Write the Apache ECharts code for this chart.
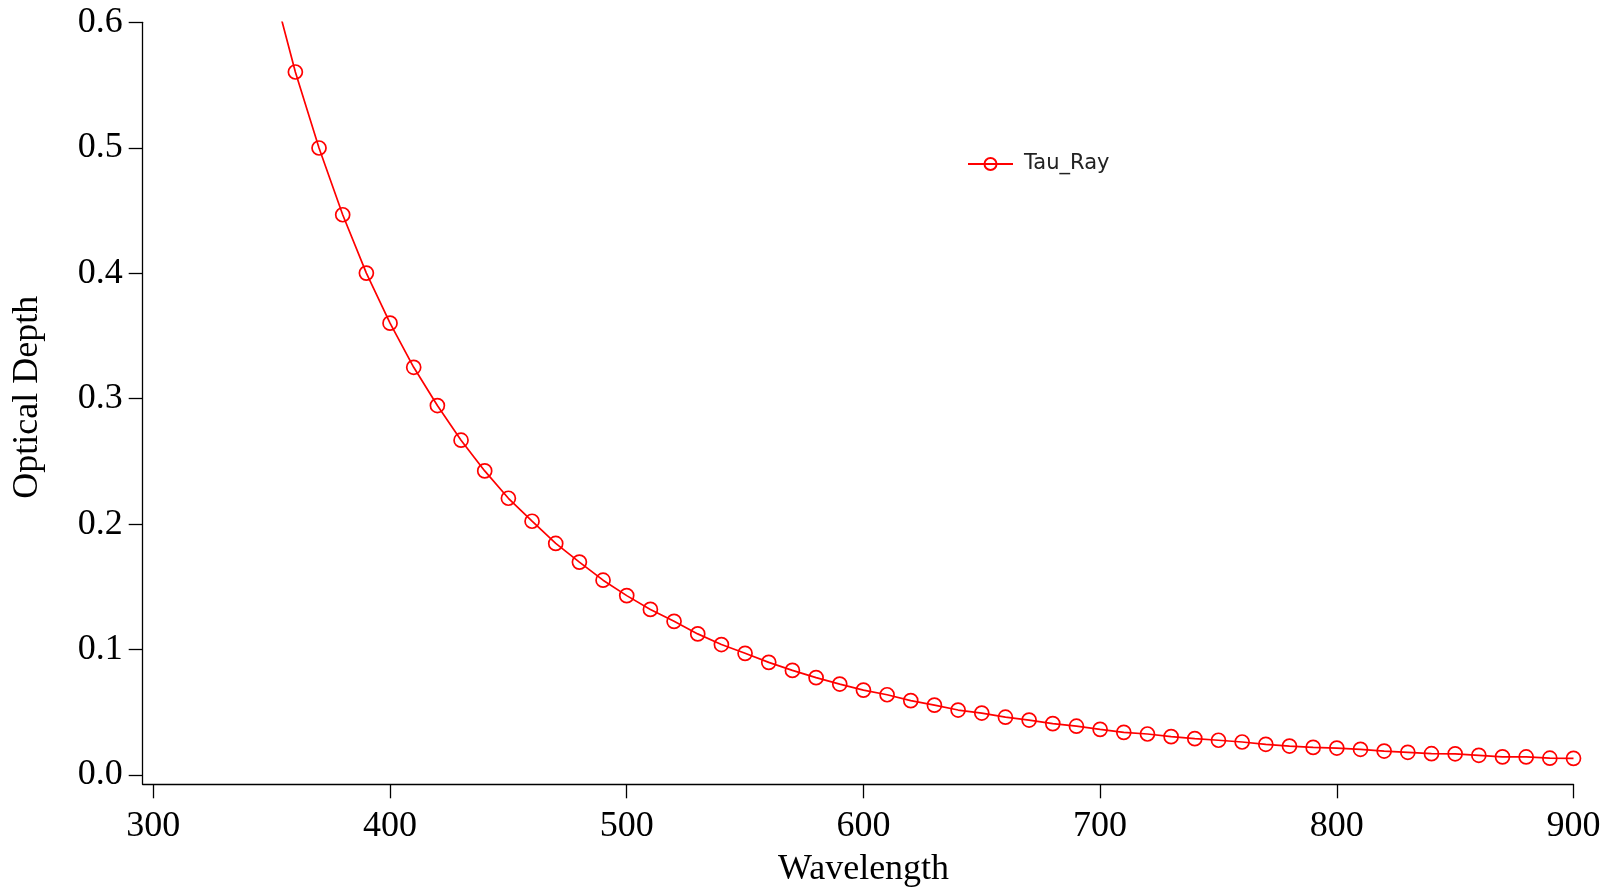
<!DOCTYPE html>
<html>
<head>
<meta charset="utf-8">
<script src="https://cdn.jsdelivr.net/npm/echarts@6/dist/echarts.min.js"></script>
<style>
html,body{margin:0;padding:0;background:#fff;}
#chart{width:1616px;height:892px;}
</style>
</head>
<body>
<div id="chart"></div>
<script>
// Wavelength (nm) of the plotted points; the first point only carries the curve into the plot top
const wavelengths = [350,360,370,380,390,400,410,420,430,440,450,460,470,480,490,500,510,520,530,540,550,560,570,580,590,600,610,620,630,640,650,660,670,680,690,700,710,720,730,740,750,760,770,780,790,800,810,820,830,840,850,860,870,880,890,900];
// Rayleigh optical depth (Tau_Ray)
const tauRay = [0.632,0.5604,0.4998,0.4466,0.4001,0.3602,0.3250,0.2945,0.2669,0.2424,0.2206,0.2023,0.1846,0.1697,0.1553,0.1430,0.1320,0.1225,0.1125,0.1040,0.0970,0.0898,0.0834,0.0776,0.0725,0.0677,0.0640,0.0593,0.0557,0.0518,0.0494,0.0461,0.0438,0.0410,0.0389,0.0364,0.0340,0.0327,0.0306,0.0290,0.0277,0.0263,0.0245,0.0231,0.0220,0.0215,0.0205,0.0191,0.0181,0.0170,0.0169,0.0157,0.0145,0.0144,0.0134,0.0133];
const xTicks = [300,400,500,600,700,800,900];
const yTicks = [0.0,0.1,0.2,0.3,0.4,0.5,0.6];
const seriesName = 'Tau_Ray';
const xTitle = 'Wavelength';
const yTitle = 'Optical Depth';

const data = wavelengths.map((w, i) => i === 0 ? {value: [w, tauRay[i]], symbol: 'none'} : [w, tauRay[i]]);

const chart = echarts.init(document.getElementById('chart'), null, {renderer: 'canvas'});
const serif = 'Liberation Serif, Times New Roman, serif';
chart.setOption({
  animation: false,
  backgroundColor: '#ffffff',
  grid: {left: 142.7, right: 42.5, top: 22.3, bottom: 107.7, containLabel: false, outerBoundsMode: 'none'},
  legend: {
    left: 967, top: 153.5, padding: 0,
    itemWidth: 45, itemHeight: 15,
    data: [seriesName],
    textStyle: {fontFamily: 'DejaVu Sans, sans-serif', fontSize: 21, color: '#222', padding: [0,0,0,6]}
  },
  xAxis: {
    type: 'value', min: 295.5, max: 900,
    name: xTitle, nameLocation: 'middle', nameGap: 67,
    nameTextStyle: {fontFamily: serif, fontSize: 36, color: '#000', padding: [0,0,0,11]},
    axisLine: {show: true, onZero: false, lineStyle: {color: '#000', width: 1.3}},
    axisTick: {show: true, length: 14, inside: false, customValues: xTicks, lineStyle: {color: '#000', width: 1.3}},
    axisLabel: {customValues: xTicks, margin: 24, fontFamily: serif, fontSize: 36, color: '#000'},
    splitLine: {show: false}
  },
  yAxis: {
    type: 'value', min: -0.0074, max: 0.6,
    name: yTitle, nameLocation: 'middle', nameGap: 97,
    nameTextStyle: {fontFamily: serif, fontSize: 36, color: '#000', padding: [0,0,0,12]},
    axisLine: {show: true, onZero: false, lineStyle: {color: '#000', width: 1.3}},
    axisTick: {show: true, length: 14, inside: false, customValues: yTicks, lineStyle: {color: '#000', width: 1.3}},
    axisLabel: {customValues: yTicks, margin: 20, fontFamily: serif, fontSize: 36, color: '#000',
      formatter: v => Number(v).toFixed(1)},
    splitLine: {show: false}
  },
  series: [{
    name: seriesName,
    type: 'line',
    data: data,
    clip: true,
    smooth: false,
    symbol: 'circle',
    symbolSize: 14,
    showAllSymbol: true,
    lineStyle: {color: '#ff0000', width: 1.7},
    itemStyle: {color: 'rgba(255,255,255,0)', borderColor: '#ff0000', borderWidth: 1.7},
    emphasis: {disabled: true}
  }]
});
</script>
</body>
</html>
